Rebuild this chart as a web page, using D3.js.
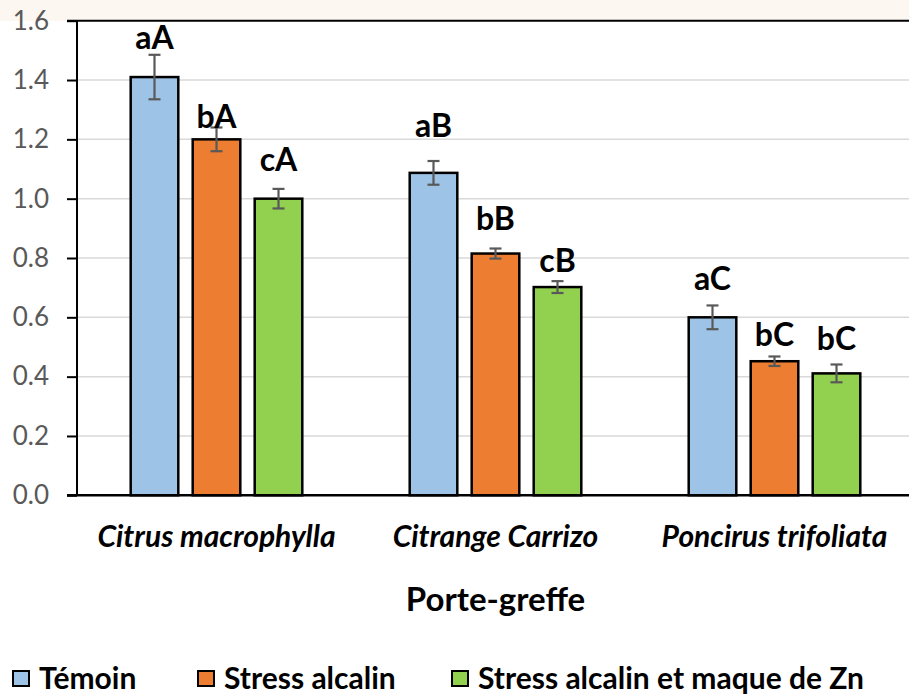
<!DOCTYPE html>
<html lang="fr">
  <head>
    <meta charset="utf-8">
    <title>Porte-greffe</title>
    <style>
      body { margin:0; background:#fff; }
      svg { display:block; font-family: Lato, "Open Sans", sans-serif; }
    </style>
  </head>
  <body>
    <svg></svg>
    <script src="https://d3js.org/d3.v7.min.js"></script>
    <script type="text/javascript">
      // data
      var categories = ["Citrus macrophylla", "Citrange Carrizo", "Poncirus trifoliata"];
      var series = ["Témoin", "Stress alcalin", "Stress alcalin et maque de Zn"];
      var temoin   = [1.41, 1.087, 0.600];
      var stress   = [1.20, 0.815, 0.452];
      var stressZn = [1.00, 0.702, 0.411];
      var errTemoin   = [0.075, 0.040, 0.040];
      var errStress   = [0.040, 0.017, 0.016];
      var errStressZn = [0.033, 0.020, 0.030];
      var lettersTemoin   = ["aA", "aB", "aC"];
      var lettersStress   = ["bA", "bB", "bC"];
      var lettersStressZn = ["cA", "cB", "bC"];
      // how far above the bar top each letter sits (in axis units)
      var liftTemoin   = [0.095, 0.121, 0.092];
      var liftStress   = [0.039, 0.079, 0.051];
      var liftStressZn = [0.093, 0.051, 0.079];
      var yTicks = [0, 0.2, 0.4, 0.6, 0.8, 1.0, 1.2, 1.4, 1.6];
      var colors = ["#9DC3E6", "#ED7D31", "#92D050"];

      var values = [temoin, stress, stressZn];
      var errs = [errTemoin, errStress, errStressZn];
      var letters = [lettersTemoin, lettersStress, lettersStressZn];
      var lifts = [liftTemoin, liftStress, liftStressZn];

      var width = 909, height = 695;
      var svg = d3.select("svg").attr("width", width).attr("height", height);

      // light band across the top
      svg.append("rect").attr("x", 0).attr("y", 0).attr("width", width).attr("height", 21)
         .style("fill", "#fdf7f1");

      var plotL = 77, plotR = 914, plotT = 20.7, plotB = 495.3;

      var x0 = d3.scaleBand().domain(categories).range([plotL, plotR]);
      var groupW = 174;
      var x1 = d3.scaleBand().domain(series).range([0, groupW]).paddingInner(12/62);
      var y = d3.scaleLinear().domain([0, 1.6]).range([plotB, plotT]);

      // gridlines
      svg.append("g").selectAll("line")
         .data(yTicks.filter(function(d){ return d > 0 && d < 1.6; }))
         .enter().append("line")
         .attr("x1", plotL).attr("x2", width)
         .attr("y1", function(d){ return y(d); })
         .attr("y2", function(d){ return y(d); })
         .style("stroke", "#d9d9d9").style("stroke-width", 1.5);

      // y axis
      var yAxis = d3.axisLeft(y).tickValues(yTicks).tickSize(10).tickPadding(18)
                    .tickFormat(d3.format(".1f"));
      var ga = svg.append("g").attr("transform", "translate(" + plotL + ",0)").call(yAxis);
      ga.select(".domain").remove();
      ga.selectAll(".tick line").style("stroke", "#000").style("stroke-width", 2);
      ga.selectAll(".tick text").style("fill", "#595959").style("font-size", "26px")
        .style("font-family", "Lato, sans-serif");

      // plot frame lines
      svg.append("line").attr("x1", plotL).attr("x2", plotL).attr("y1", plotT).attr("y2", plotB)
         .style("stroke", "#000").style("stroke-width", 2);
      svg.append("line").attr("x1", plotL - 10).attr("x2", width).attr("y1", plotT).attr("y2", plotT)
         .style("stroke", "#000").style("stroke-width", 2);

      // bars
      var rows = [];
      categories.forEach(function(c, i){
        series.forEach(function(s, j){
          rows.push({cat:c, ser:s, j:j, v:values[j][i], e:errs[j][i], lab:letters[j][i], lift:lifts[j][i]});
        });
      });
      var off = (x0.bandwidth() - groupW) / 2;
      function cx(d){ return x0(d.cat) + off + x1(d.ser) + x1.bandwidth()/2; }

      svg.append("g").selectAll("rect")
         .data(rows).enter().append("rect")
         .attr("x", function(d){ return x0(d.cat) + off + x1(d.ser) + 1.2; })
         .attr("width", x1.bandwidth() - 2.4)
         .attr("y", function(d){ return y(d.v); })
         .attr("height", function(d){ return y(0) - y(d.v); })
         .style("fill", function(d){ return colors[d.j]; })
         .style("stroke", "#000").style("stroke-width", 2.5);

      // x baseline
      svg.append("line").attr("x1", plotL - 10).attr("x2", width).attr("y1", plotB).attr("y2", plotB)
         .style("stroke", "#000").style("stroke-width", 2.5);

      // error bars
      var eb = svg.append("g").style("stroke", "#595959").style("stroke-width", 2.2);
      rows.forEach(function(d){
        var c = cx(d);
        eb.append("line").attr("x1", c).attr("x2", c).attr("y1", y(d.v + d.e)).attr("y2", y(d.v - d.e));
        eb.append("line").attr("x1", c - 6).attr("x2", c + 6).attr("y1", y(d.v + d.e)).attr("y2", y(d.v + d.e));
        eb.append("line").attr("x1", c - 6).attr("x2", c + 6).attr("y1", y(d.v - d.e)).attr("y2", y(d.v - d.e));
      });

      // letters
      svg.append("g").selectAll("text")
         .data(rows).enter().append("text")
         .attr("x", cx)
         .attr("y", function(d){ return y(d.v + d.lift); })
         .attr("text-anchor", "middle")
         .style("font-size", "32px").style("font-weight", "bold").style("fill", "#000")
         .text(function(d){ return d.lab; });

      // category labels
      svg.append("g").selectAll("text")
         .data(categories).enter().append("text")
         .attr("x", function(d){ return x0(d) + x0.bandwidth()/2; })
         .attr("y", 547)
         .attr("text-anchor", "middle")
         .style("font-size", "30px").style("font-weight", "bold").style("font-style", "italic")
         .text(function(d){ return d; });

      // axis title
      svg.append("text").attr("x", (plotL + plotR)/2).attr("y", 611)
         .attr("text-anchor", "middle")
         .style("font-size", "33px").style("font-weight", "bold")
         .text("Porte-greffe");

      // legend
      var legX = [12, 197, 451];
      var leg = svg.append("g").selectAll("g").data(series).enter().append("g")
                   .attr("transform", function(d, i){ return "translate(" + legX[i] + ",670)"; });
      leg.append("rect").attr("x", 1).attr("y", 1).attr("width", 16).attr("height", 15)
         .style("fill", function(d, i){ return colors[i]; })
         .style("stroke", "#000").style("stroke-width", 2);
      leg.append("text").attr("x", 27).attr("y", 19)
         .style("font-size", "30px").style("font-weight", "bold")
         .text(function(d){ return d; });
    </script>
  </body>
</html>
